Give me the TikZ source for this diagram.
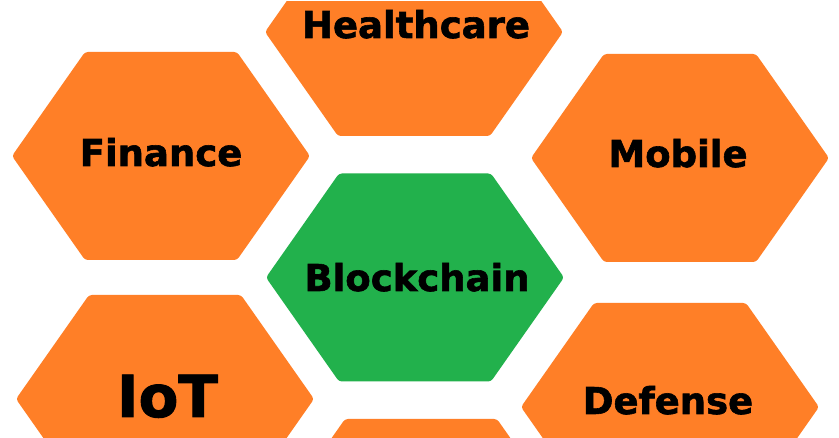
\documentclass[tikz,border=0pt]{standalone}
\usepackage{fontspec}
\setmainfont{DejaVu Sans}
\newfontfamily\heavyfont{DejaVu Sans Bold}[FakeBold=1.6]
\definecolor{hexorange}{RGB}{255,127,39}
\definecolor{hexgreen}{RGB}{34,177,76}
\newcommand{\hexfill}[3]{%
  \fill[#3,hexcorner] ({#1-149},{#2}) -- ({#1-76},{#2-104}) -- ({#1+76},{#2-104})
    -- ({#1+149},{#2}) -- ({#1+76},{#2+104}) -- ({#1-76},{#2+104}) -- cycle;}
\tikzset{
  hexcorner/.style={rounded corners=3pt},
  hexlabel/.style={anchor=base, inner sep=0pt, text=black,
    font=\heavyfont\fontsize{37}{40}\selectfont},
  biglabel/.style={hexlabel, font=\heavyfont\fontsize{58}{60}\selectfont}
}
\begin{document}
\begin{tikzpicture}[x=1pt,y=-1pt]
  \useasboundingbox (0,0) rectangle (839,438);
  \fill[white] (0,0) rectangle (839,438);
  \begin{scope}
    \clip (0,2) rectangle (839,438);
    \hexfill{414}{32}{hexorange}
    \hexfill{161}{156}{hexorange}
    \hexfill{680}{158}{hexorange}
    \hexfill{415}{277.5}{hexgreen}
    \hexfill{165}{399}{hexorange}
    \hexfill{670}{407}{hexorange}
    \hexfill{421}{523}{hexorange}
  \end{scope}
  \node[hexlabel] (healthcare) at (416,38) {Healthcare};
  \node[hexlabel] (finance) at (161,166) {Finance};
  \node[hexlabel] (mobile) at (678,167) {Mobile};
  \node[hexlabel] (blockchain) at (417,291) {Blockchain};
  \node[biglabel] (iot) at (167.5,417) {IoT};
  \node[hexlabel] (defense) at (668,414) {Defense};
\end{tikzpicture}
\end{document}
